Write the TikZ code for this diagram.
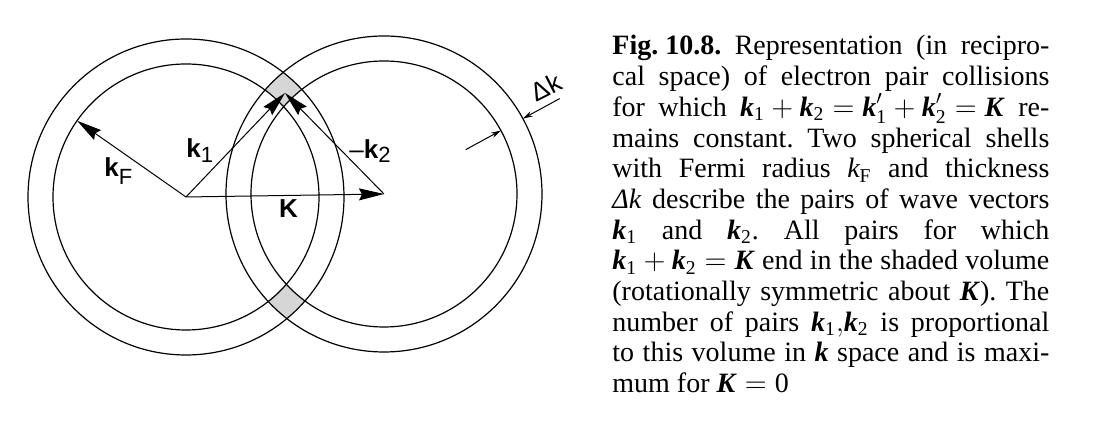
\documentclass[tikz,border=0pt]{standalone}
\usepackage{amsmath}
\usepackage{fontspec}
\setmainfont{Liberation Serif}
\newfontfamily\labfont{Liberation Sans}
\usetikzlibrary{arrows.meta}
\frenchspacing

% bold italic vectors of the caption
\newcommand\bk{\textbf{\textit{k}}}
\newcommand\bK{\textbf{\textit{K}}}
\newcommand\sub[1]{_{\text{\normalfont #1}}}
% bold sans k with a lowered index, for the drawing
\newcommand\labk[2]{{\bfseries k}\raisebox{-#2}{\fontsize{11}{11}\selectfont\mdseries #1}}

\tikzset{
  shell/.style={line width=0.6pt},
  vec/.style={line width=0.5pt, -{Stealth[length=12.5pt,width=6pt,inset=1.5pt]}},
  thick tip/.style={line width=0.5pt, -{Stealth[length=5pt,width=2.8pt]}},
  lens/.style={fill=black!16},
  lab/.style={font=\labfont\fontsize{13}{15}\selectfont, inner sep=0pt},
  capline/.style={anchor=base west, inner sep=0pt, font=\fontsize{14}{15.35}\selectfont}
}

\begin{document}
\begin{tikzpicture}[x=0.5pt,y=-0.5pt]
\useasboundingbox (0,0) rectangle (1105,431);
% centres of the two spheres, common end of k1 and -k2
\coordinate (L) at (186,197);
\coordinate (R) at (384,194);
\coordinate (P) at (285,93);
% shaded overlap of the shells
\begin{scope}
  \clip (L) circle[radius=79pt];
  \clip (R) circle[radius=79pt];
  \fill[lens] (0,0) rectangle (600,431);
  \fill[white] (L) circle[radius=66.5pt] (R) circle[radius=66.5pt];
\end{scope}
\foreach \c in {L,R}{
  \draw[shell] (\c) circle[radius=66.5pt];
  \draw[shell] (\c) circle[radius=79pt];
}
% wave vectors
\path (L) ++(145:66.5pt) coordinate (F);
\draw[vec] (L) -- (F);
\draw[vec] (L) -- (P);
\draw[vec] (R) -- (P);
\draw[vec] (L) -- (R);
% thickness of the shell
\path (R) ++(28.5:46.5pt) coordinate (d1) ++(28.5:20pt) coordinate (d2)
      (R) ++(28.5:100pt) coordinate (d3) ++(208.5:21pt) coordinate (d4);
\draw[thick tip] (d1) -- (d2);
\draw[thick tip] (d3) -- (d4);
% labels
\node[lab, anchor=base west] (kF) at (104,177) {\labk{F}{4pt}};
\node[lab, anchor=base west] (k1) at (186,158) {\labk{1}{2.5pt}};
\node[lab, anchor=base west] (k2) at (349,159) {–\labk{2}{2pt}};
\node[lab] (K) at (288.5,208.5) {\bfseries K};
\node[lab, rotate=27] (dk) at (546,87) {Δk};
% caption
\node[capline] (c1) at (612,55) {\makebox[218.5pt][s]{\textbf{\mbox{Fig. 10.8.}} Representation (in recipro-}};
\node[capline] (c2) at (612,85.7) {\makebox[218.5pt][s]{cal space) of electron pair collisions}};
\node[capline] (c3) at (612,116.4) {\makebox[218.5pt][s]{for which \mbox{$\bk\sub1+\bk\sub2=\bk'\sub1+\bk'\sub2=\bK$} re-}};
\node[capline] (c4) at (612,147.1) {\makebox[218.5pt][s]{mains constant. Two spherical shells}};
\node[capline] (c5) at (612,177.8) {\makebox[218.5pt][s]{with Fermi radius \mbox{$\text{\itshape k}\sub{F}$} and thickness}};
\node[capline] (c6) at (612,208.5) {\makebox[218.5pt][s]{\textit{Δk} describe the pairs of wave vectors}};
\node[capline] (c7) at (612,239.2) {\makebox[218.5pt][s]{\mbox{$\bk\sub1$} and \mbox{$\bk\sub2$}. All pairs for which}};
\node[capline] (c8) at (612,269.9) {\makebox[218.5pt][s]{\mbox{$\bk\sub1+\bk\sub2=\bK$} end in the shaded volume}};
\node[capline] (c9) at (612,300.6) {\makebox[218.5pt][s]{(rotationally symmetric about \bK). The}};
\node[capline] (c10) at (612,331.3) {\makebox[218.5pt][s]{number of pairs \mbox{$\bk\sub1{,}\bk\sub2$} is proportional}};
\node[capline] (c11) at (612,362) {\makebox[218.5pt][s]{to this volume in \bk\ space and is maxi-}};
\node[capline] (c12) at (612,392.7) {mum for \mbox{\bK${}={}$0}};
\end{tikzpicture}
\end{document}
